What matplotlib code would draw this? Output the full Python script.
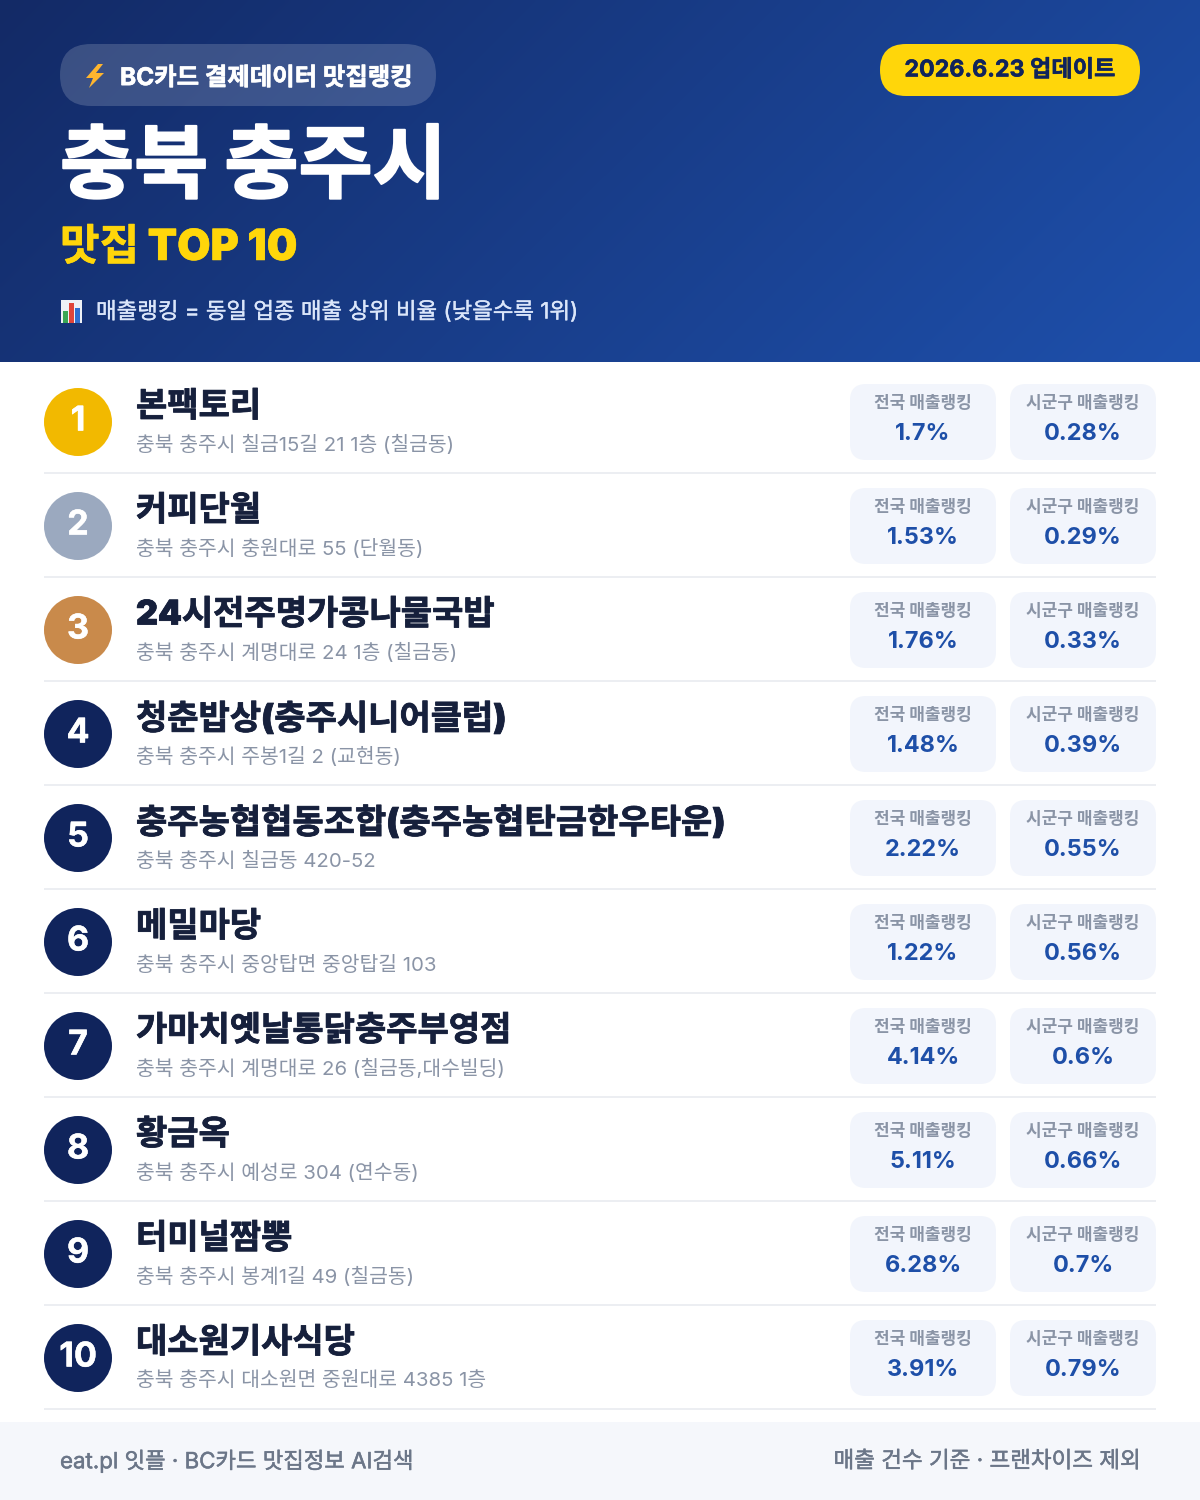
import numpy as np
import matplotlib
matplotlib.use("Agg")
import matplotlib.pyplot as plt
import matplotlib.patheffects as pe
from matplotlib.patches import FancyBboxPatch, Circle, Rectangle, Polygon

plt.rcParams['font.family'] = ['Inter', 'Noto Sans CJK KR', 'DejaVu Sans']

names = ['본팩토리', '커피단월', '24시전주명가콩나물국밥', '청춘밥상(충주시니어클럽)',
         '충주농협협동조합(충주농협탄금한우타운)', '메밀마당', '가마치옛날통닭충주부영점',
         '황금옥', '터미널짬뽕', '대소원기사식당']
addrs = ['충북 충주시 칠금15길 21 1층 (칠금동)', '충북 충주시 충원대로 55 (단월동)',
         '충북 충주시 계명대로 24 1층 (칠금동)', '충북 충주시 주봉1길 2 (교현동)',
         '충북 충주시 칠금동 420-52', '충북 충주시 중앙탑면 중앙탑길 103',
         '충북 충주시 계명대로 26 (칠금동,대수빌딩)', '충북 충주시 예성로 304 (연수동)',
         '충북 충주시 봉계1길 49 (칠금동)', '충북 충주시 대소원면 중원대로 4385 1층']
national = ['1.7%', '1.53%', '1.76%', '1.48%', '2.22%', '1.22%', '4.14%', '5.11%', '6.28%', '3.91%']
local = ['0.28%', '0.29%', '0.33%', '0.39%', '0.55%', '0.56%', '0.6%', '0.66%', '0.7%', '0.79%']
medal_colors = ['#f2b900', '#9ba9bf', '#c98a4b']
navy = '#10245c'

def px(size):
    return size * 72 / 100

# heavy = stroke width in px, to thicken the text a bit
def label(x, y, s, size, color, weight='bold', ha='left', heavy=0, **kw):
    t = ax.text(x, y, s, fontsize=px(size), color=color, fontweight=weight,
                ha=ha, va='center_baseline', **kw)
    if heavy:
        t.set_path_effects([pe.withStroke(linewidth=heavy * 0.72, foreground=color)])
    return t

def rbox(x, y, w, h, r, color, alpha=1.0, z=1):
    ax.add_patch(FancyBboxPatch((x + r, y + r), w - 2 * r, h - 2 * r,
                                boxstyle='round,pad=%g,rounding_size=%g' % (r, r),
                                fc=color, ec='none', alpha=alpha, zorder=z))

fig = plt.figure(figsize=(12, 15), dpi=100, facecolor='white')
ax = fig.add_axes([0, 0, 1, 1])

# header gradient
gx, gy = np.meshgrid(np.linspace(0, 1, 300), np.linspace(0, 1, 90))
t = (gx * 1200 + gy * 362) / (1200 + 362)
c0 = np.array([0x13, 0x2a, 0x66]) / 255
c1 = np.array([0x1e, 0x50, 0xac]) / 255
grad = c0[None, None, :] + (c1 - c0)[None, None, :] * t[:, :, None]
ax.imshow(grad, extent=(0, 1200, 362, 0), aspect='auto', zorder=0, interpolation='bilinear')
ax.set_xlim(0, 1200)
ax.set_ylim(1500, 0)
ax.axis('off')

# header
rbox(60, 44, 376, 62, 31, '#ffffff', alpha=0.17)
ax.add_patch(Polygon([(98, 64), (86, 78), (93, 78), (89, 88), (104, 73), (96, 73), (103, 64)],
                     fc='#ffb52e', ec='none', zorder=3))
label(120, 76, 'BC카드 결제데이터 맛집랭킹', 24.4, 'white', heavy=0.6)
rbox(880, 44, 260, 52, 26, '#ffd60a')
label(1010, 68, '2026.6.23 업데이트', 23.2, '#10245c', ha='center', heavy=0.5)
label(60, 162, '충북 충주시', 80.6, 'white', weight='black', heavy=2)
label(60, 244, '맛집 TOP 10', 43, '#ffd60a', weight='black', heavy=0.5)
ax.add_patch(Rectangle((61, 300), 21, 23, fc='#eef1f6', ec='none', zorder=3))
for bx, bh, bc in [(63, 12, '#3aa655'), (69, 20, '#e0453a'), (75, 15, '#2f6fd0')]:
    ax.add_patch(Rectangle((bx, 323 - bh), 5, bh, fc=bc, ec='none', zorder=4))
label(96, 310, '매출랭킹 = 동일 업종 매출 상위 비율 (낮을수록 1위)', 22.4, '#dbe6fa', weight='regular', heavy=0.35)

# rows
for i in range(10):
    top = 104 * i
    color = medal_colors[i] if i < 3 else navy
    ax.add_patch(Circle((78, 422 + top), 34, fc=color, ec='none', zorder=2))
    label(78, 418 + top, str(i + 1), 34, 'white', ha='center', zorder=3, heavy=0.5)
    label(136, 404 + top, names[i], 34, '#16203c', weight='black', heavy=0.8)
    label(136, 443 + top, addrs[i], 20.4, '#8a94a6', weight='regular')
    rbox(850, 384 + top, 146, 76, 16, '#f2f5fc')
    rbox(1010, 384 + top, 146, 76, 16, '#f2f5fc')
    label(923, 401 + top, '전국 매출랭킹', 17, '#8a94a6', ha='center')
    label(1083, 401 + top, '시군구 매출랭킹', 17, '#8a94a6', ha='center')
    label(923, 432 + top, national[i], 23.5, '#1e4fa8', ha='center')
    label(1083, 432 + top, local[i], 23.5, '#1e4fa8', ha='center')
    ax.add_patch(Rectangle((44, 472 + top), 1112, 2, fc='#eceef2', ec='none', zorder=1))

# footer
ax.add_patch(Rectangle((0, 1422), 1200, 78, fc='#f5f7fb', ec='none', zorder=1))
label(60, 1459, 'eat.pl 잇플 · BC카드 맛집정보 AI검색', 22.3, '#6b7688', weight='regular', heavy=0.5)
label(1140, 1459, '매출 건수 기준 · 프랜차이즈 제외', 22.5, '#6b7688', weight='regular', ha='right', heavy=0.5)

fig.savefig('out.png', dpi=100)
